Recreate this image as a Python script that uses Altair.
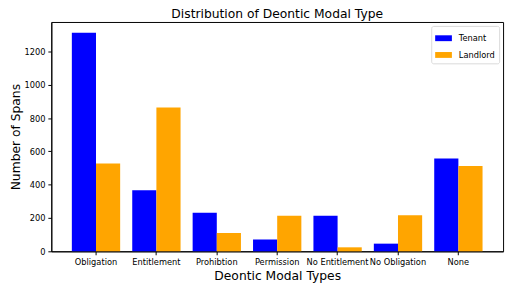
import altair as alt
import pandas as pd

categories = ["Obligation", "Entitlement", "Prohibtion", "Permission",
              "No Entitlement", "No Obligation", "None"]
series = ["Tenant", "Landlord"]
tenant = [1312, 366, 232, 71, 213, 46, 557]
landlord = [527, 864, 110, 214, 24, 217, 512]
y_ticks = [0, 200, 400, 600, 800, 1000, 1200]

rows = []
for c, t, l in zip(categories, tenant, landlord):
    rows.append({"cat": c, "series": "Tenant", "value": t})
    rows.append({"cat": c, "series": "Landlord", "value": l})
df = pd.DataFrame(rows)

FONT = "DejaVu Sans"

chart = alt.Chart(df).mark_bar(stroke=None).encode(
    x=alt.X("cat:N", sort=categories,
            scale=alt.Scale(paddingInner=0.2, paddingOuter=0.34),
            axis=alt.Axis(title="Deontic Modal Types", labelAngle=0,
                          labelOverlap=False, labelFontSize=8.4,
                          labelColor="black", labelFont=FONT,
                          titleFont=FONT, titleFontSize=12.5,
                          titleFontWeight="normal", titleColor="black",
                          titlePadding=4,
                          tickColor="black", tickSize=3.5, labelPadding=3,
                          domainColor="black")),
    xOffset=alt.XOffset("series:N", sort=series,
                        scale=alt.Scale(paddingInner=0, paddingOuter=0)),
    y=alt.Y("value:Q",
            scale=alt.Scale(domain=[0, 1377], nice=False),
            axis=alt.Axis(title="Number of Spans", values=y_ticks, grid=False,
                          format="d",
                          labelFontSize=8.4, labelColor="black", labelFont=FONT,
                          titleFont=FONT, titleFontSize=12.5,
                          titleFontWeight="normal", titleColor="black",
                          titlePadding=2,
                          tickColor="black", tickSize=3.5, labelPadding=3,
                          domainColor="black")),
    color=alt.Color("series:N", sort=series,
                    scale=alt.Scale(domain=series, range=["#0000ff", "#ffa500"]),
                    legend=alt.Legend(title=None, orient="top-right", offset=4,
                                      fillColor="white", strokeColor="#d9d9d9",
                                      cornerRadius=2, padding=4,
                                      symbolType="M-1,-0.35L1,-0.35L1,0.35L-1,0.35Z",
                                      symbolSize=289, symbolStrokeWidth=0,
                                      labelFont=FONT, labelFontSize=8.4,
                                      labelColor="black", labelOffset=7,
                                      rowPadding=4)),
).properties(
    width=459,
    height=233,
    title=alt.TitleParams("Distribution of Deontic Modal Type", font=FONT,
                          fontSize=12.5, fontWeight="normal", color="black",
                          offset=2, anchor="middle"),
    autosize=alt.AutoSizeParams(type="none"),
    padding={"left": 44, "top": 12, "right": 5, "bottom": 31},
).configure_view(
    stroke="black", strokeWidth=1
)

chart.save("out.html", embed_options={"renderer": "svg", "actions": False})
